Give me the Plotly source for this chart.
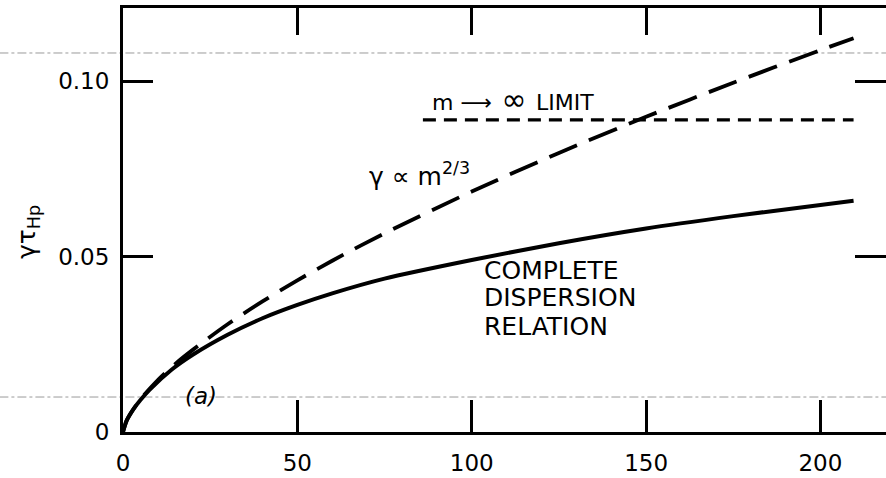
import plotly.graph_objects as go

# Growth rate γτ_Hp versus mode number m
m_complete = [0, 1, 3, 5, 7.6, 14, 20, 30, 40, 50, 60, 75, 100, 125, 150, 175, 200, 209.5]
gamma_complete = [0, 0.0031, 0.0065, 0.0091, 0.0120, 0.0178, 0.0220, 0.0277, 0.0324,
                  0.0362, 0.0395, 0.0437, 0.0490, 0.0538, 0.0580, 0.0615, 0.0647, 0.0659]

m_power = [0, 1, 2, 5, 10, 15, 20, 30, 40, 50, 60, 75, 100, 125, 150, 175, 200, 209.5]
gamma_power = [0, 0.0032, 0.0050, 0.0093, 0.0148, 0.0194, 0.0234, 0.0307, 0.0372, 0.0432,
               0.0488, 0.0566, 0.0685, 0.0795, 0.0898, 0.0995, 0.1088, 0.1122]

m_limit = [86, 209.5]
gamma_limit = [0.0889, 0.0889]

x_ticks = [0, 50, 100, 150, 200]
x_ticktext = ["0", "50", "100", "150", "200"]
y_ticks = [0, 0.05, 0.10]
y_ticktext = ["0", "0.05", "0.10"]

X_RANGE = [0, 218.8]
Y_RANGE = [0, 0.1208]
FONT = "DejaVu Sans"

fig = go.Figure()

fig.add_trace(go.Scatter(
    x=m_complete, y=gamma_complete, mode="lines",
    line=dict(color="black", width=4, shape="spline", smoothing=0.8),
    showlegend=False, hoverinfo="skip"))

fig.add_trace(go.Scatter(
    x=m_power, y=gamma_power, mode="lines",
    line=dict(color="black", width=3.8, dash="30px,13px", shape="spline", smoothing=0.8),
    showlegend=False, hoverinfo="skip"))

fig.add_trace(go.Scatter(
    x=m_limit, y=gamma_limit, mode="lines",
    line=dict(color="black", width=3.2, dash="13px,8px"),
    showlegend=False, hoverinfo="skip"))

# empty trace so the top / right tick axes are created
fig.add_trace(go.Scatter(x=[], y=[], xaxis="x2", yaxis="y2",
                         showlegend=False, hoverinfo="skip"))

tickfont = dict(family=FONT, size=23, color="black")

fig.update_layout(
    width=886, height=478,
    margin=dict(l=123, r=0, t=8, b=46),
    paper_bgcolor="white", plot_bgcolor="white",
    font=dict(family=FONT, color="black"),
    xaxis=dict(range=X_RANGE, showgrid=False, zeroline=False,
               showline=True, linewidth=3, linecolor="black",
               ticks="inside", ticklen=32, tickwidth=2.5, tickcolor="black",
               tickvals=x_ticks, ticktext=x_ticktext, tickfont=tickfont,
               ticklabelstandoff=8),
    yaxis=dict(range=Y_RANGE, showgrid=False, zeroline=False,
               showline=True, linewidth=3, linecolor="black",
               ticks="inside", ticklen=30, tickwidth=2.5, tickcolor="black",
               tickvals=y_ticks, ticktext=y_ticktext, tickfont=tickfont,
               ticklabelstandoff=6),
    xaxis2=dict(range=X_RANGE, overlaying="x", side="top", anchor="y",
                showgrid=False, zeroline=False,
                showline=True, linewidth=3, linecolor="black",
                ticks="inside", ticklen=27, tickwidth=2.5, tickcolor="black",
                tickvals=x_ticks[1:], showticklabels=False),
    yaxis2=dict(range=Y_RANGE, overlaying="y", side="right", anchor="x",
                showgrid=False, zeroline=False, showline=False,
                ticks="inside", ticklen=31, tickwidth=2.5, tickcolor="black",
                tickvals=y_ticks, showticklabels=False),
)

# faint horizontal rules running across the sheet
for yp in [0.8939, 0.0825]:
    fig.add_shape(type="line", xref="paper", yref="paper",
                  x0=-0.162, x1=1.0, y0=yp, y1=yp, layer="below",
                  line=dict(color="#9a9a9a", width=1, dash="dashdot"))

fig.add_annotation(x=87.9, y=0.0946, xref="x", yref="y", xanchor="left", yanchor="middle",
                   text='m ⟶<span style="font-size:30px"> ∞ </span>LIMIT', showarrow=False,
                   font=dict(family=FONT, size=22, color="black"))
fig.add_annotation(x=70.0, y=0.0734, xref="x", yref="y", xanchor="left", yanchor="middle",
                   text="γ ∝ m<sup>2/3</sup>", showarrow=False,
                   font=dict(family=FONT, size=25, color="black"))

for label, yv in [("COMPLETE", 0.0459), ("DISPERSION", 0.0382), ("RELATION", 0.0302)]:
    fig.add_annotation(x=103.0, y=yv, xref="x", yref="y", xanchor="left", yanchor="middle",
                       text=label, showarrow=False,
                       font=dict(family=FONT, size=25, color="black"))

fig.add_annotation(x=22.3, y=0.0103, xref="x", yref="y", xanchor="center", yanchor="middle",
                   text="<i>(a)</i>", showarrow=False,
                   font=dict(family=FONT, size=23, color="black"))

fig.add_annotation(x=-0.1245, y=0.4717, xref="paper", yref="paper",
                   xanchor="center", yanchor="middle", textangle=-90,
                   text="γτ<sub>Hp</sub>", showarrow=False,
                   font=dict(family=FONT, size=25, color="black"))

fig.write_html("out.html")
